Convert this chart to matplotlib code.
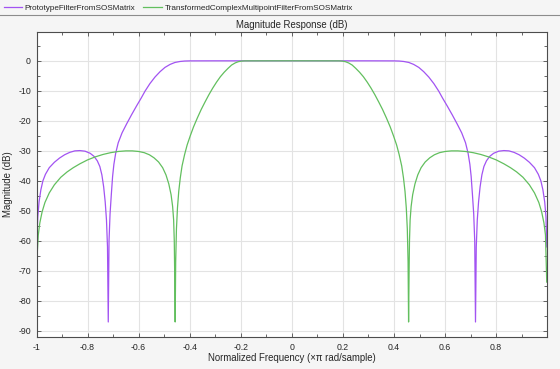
import numpy as np
import matplotlib
matplotlib.use('Agg')
import matplotlib.pyplot as plt
from matplotlib.lines import Line2D
from matplotlib.ticker import MultipleLocator

plt.rcParams['font.family'] = ['Liberation Sans', 'DejaVu Sans']
plt.rcParams['axes.unicode_minus'] = False

# Frequency (x pi rad/sample) and magnitude (dB)
proto_freq = [-1.0, -0.998, -0.995, -0.99, -0.983, -0.975, -0.965, -0.95, -0.93, -0.91,
              -0.89, -0.87, -0.85, -0.83, -0.81, -0.79, -0.775, -0.762, -0.752, -0.744,
              -0.737, -0.731, -0.726, -0.722, -0.719, -0.716, -0.712, -0.707, -0.702,
              -0.697, -0.69, -0.68, -0.665, -0.647, -0.628, -0.608, -0.59, -0.575,
              -0.556, -0.536, -0.516, -0.497, -0.477, -0.458, -0.438, -0.42, -0.4,
              -0.3, 0.0, 0.3, 0.4, 0.42, 0.438, 0.458, 0.477, 0.497, 0.516, 0.536,
              0.556, 0.575, 0.59, 0.608, 0.628, 0.647, 0.665, 0.68, 0.69, 0.697,
              0.702, 0.707, 0.712, 0.716, 0.719, 0.722, 0.726, 0.731, 0.737, 0.744,
              0.752, 0.762, 0.775, 0.79, 0.81, 0.83, 0.85, 0.87, 0.89, 0.91, 0.93,
              0.95, 0.965, 0.975, 0.983, 0.99, 0.995, 0.998]
proto_db = [-65, -58, -52, -47, -43, -40, -37.8, -35.6, -33.8, -32.4,
            -31.3, -30.5, -30.0, -29.9, -30.1, -30.8, -31.8, -33.3, -35.2, -38,
            -42, -47, -53, -62, -87, -60, -51, -44.5, -38.5,
            -34.5, -30.8, -27.3, -24.0, -21.0, -18.0, -15.0, -12.4, -10.1,
            -7.6, -5.4, -3.6, -2.2, -1.2, -0.55, -0.22, -0.07, -0.02,
            0, 0, 0, -0.02, -0.07, -0.22, -0.55, -1.2, -2.2, -3.6, -5.4,
            -7.6, -10.1, -12.4, -15.0, -18.0, -21.0, -24.0, -27.3, -30.8, -34.5,
            -38.5, -44.5, -51, -60, -87, -62, -53, -47, -42, -38,
            -35.2, -33.3, -31.8, -30.8, -30.1, -29.9, -30.0, -30.5, -31.3, -32.4, -33.8,
            -35.6, -37.8, -40, -43, -47, -52, -62]

trans_freq = [-1.0, -0.999, -0.997, -0.993, -0.987, -0.978, -0.967, -0.95, -0.93, -0.905,
              -0.88, -0.856, -0.83, -0.80, -0.77, -0.74, -0.71, -0.68, -0.65, -0.625,
              -0.60, -0.578, -0.558, -0.54, -0.522, -0.506, -0.493, -0.482, -0.473,
              -0.467, -0.463, -0.4605, -0.459, -0.457, -0.455, -0.452, -0.448, -0.443,
              -0.437, -0.43, -0.42, -0.41, -0.398, -0.385, -0.37, -0.355, -0.34,
              -0.325, -0.31, -0.295, -0.28, -0.265, -0.25, -0.236, -0.222, -0.21,
              -0.198, -0.185, 0.0, 0.185, 0.198, 0.21, 0.222, 0.236, 0.25, 0.265, 0.28,
              0.295, 0.31, 0.325, 0.34, 0.355, 0.37, 0.385, 0.398, 0.41, 0.42, 0.43,
              0.437, 0.443, 0.448, 0.452, 0.455, 0.457, 0.459, 0.4605, 0.463, 0.467,
              0.473, 0.482, 0.493, 0.506, 0.522, 0.54, 0.558, 0.578, 0.60, 0.625, 0.65,
              0.68, 0.71, 0.74, 0.77, 0.80, 0.83, 0.856, 0.88, 0.905, 0.93, 0.95, 0.967,
              0.978, 0.987, 0.993, 0.998]
trans_db = [-88, -72, -64, -58, -54, -50.3, -47.2, -44, -41.3, -38.8,
            -37.0, -35.6, -34.3, -33.0, -32.0, -31.2, -30.6, -30.2, -30.0, -30.0,
            -30.2, -30.6, -31.3, -32.3, -33.7, -35.6, -38.0, -41.0, -44.6,
            -48.5, -53, -60, -70, -87, -67, -56, -49, -43.5,
            -39.0, -35.0, -31.2, -28.0, -25.0, -22.0, -19.0, -16.2, -13.7,
            -11.3, -9.1, -7.1, -5.3, -3.8, -2.5, -1.4, -0.7, -0.3,
            -0.1, -0.02, 0, -0.02, -0.1, -0.3, -0.7, -1.4, -2.5, -3.8, -5.3,
            -7.1, -9.1, -11.3, -13.7, -16.2, -19.0, -22.0, -25.0, -28.0, -31.2, -35.0,
            -39.0, -43.5, -49, -56, -67, -87, -70, -60, -53, -48.5,
            -44.6, -41.0, -38.0, -35.6, -33.7, -32.3, -31.3, -30.6, -30.2, -30.0, -30.0,
            -30.2, -30.6, -31.2, -32.0, -33.0, -34.3, -35.6, -37.0, -38.8, -41.3, -44, -47.2,
            -50.3, -54, -58, -73.7]

x_ticks = [-1, -0.8, -0.6, -0.4, -0.2, 0, 0.2, 0.4, 0.6, 0.8]
x_tick_labels = ['-1', '-0.8', '-0.6', '-0.4', '-0.2', '0', '0.2', '0.4', '0.6', '0.8']
y_ticks = [-90, -80, -70, -60, -50, -40, -30, -20, -10, 0]

purple = '#a253f2'
green = '#62bf5e'
spine_col = '#4d4d4d'
text_col = '#262626'

fig = plt.figure(figsize=(5.6, 3.69), dpi=100, facecolor='#f5f5f5')
W, H = 560, 369
ax_w = 547 - 36.5
ax = fig.add_axes([36.5 / W, 1 - 337 / H, ax_w / W, (337 - 32) / H])
ax.set_facecolor('white')

l1, = ax.plot(proto_freq, proto_db, color=purple, lw=0.9)
l2, = ax.plot(trans_freq, trans_db, color=green, lw=0.9)

ax.set_xlim(-1, 0.999)
ax.set_ylim(-92, 9.6)
ax.set_xticks(x_ticks)
ax.set_xticklabels(x_tick_labels)
ax.set_yticks(y_ticks)
ax.xaxis.set_minor_locator(MultipleLocator(0.1))
ax.yaxis.set_minor_locator(MultipleLocator(5))
ax.grid(True, which='major', color='#e3e3e3', lw=0.8)
ax.set_axisbelow(True)
ax.tick_params(which='both', direction='in', top=True, right=True,
               colors=spine_col, labelcolor=text_col, labelsize=6.3, width=0.6, pad=4)
ax.tick_params(which='major', length=3)
ax.tick_params(which='minor', length=2)
for s in ax.spines.values():
    s.set_color(spine_col)
    s.set_linewidth(0.8)

ax.set_title('Magnitude Response (dB)', fontsize=6.9, color=text_col, pad=3)
ax.set_xlabel('Normalized Frequency (\u00d7\u03c0 rad/sample)', fontsize=6.9, color=text_col)
ax.xaxis.set_label_coords(0.5, -(353 - 337) / (337 - 32))
ax.xaxis.label.set_va('top')
ax.set_ylabel('Magnitude (dB)', fontsize=6.9, color=text_col)
ax.yaxis.set_label_coords((13 - 36.5) / ax_w, 0.5)

fig.legend([l1, l2], ['PrototypeFilterFromSOSMatrix', 'TransformedComplexMultipointFilterFromSOSMatrix'],
           loc='upper left', bbox_to_anchor=(2 / W, 1 - 2.5 / H), ncol=2, frameon=False,
           fontsize=5.9, handlelength=2.3, handletextpad=0.25, columnspacing=1.0,
           borderaxespad=0.0, borderpad=0.2, labelcolor=text_col)
fig.add_artist(Line2D([0, 1], [1 - 15 / H, 1 - 15 / H], color='#8c8c8c', lw=0.8,
                      transform=fig.transFigure))

fig.savefig('out.png', dpi=100, facecolor=fig.get_facecolor())
